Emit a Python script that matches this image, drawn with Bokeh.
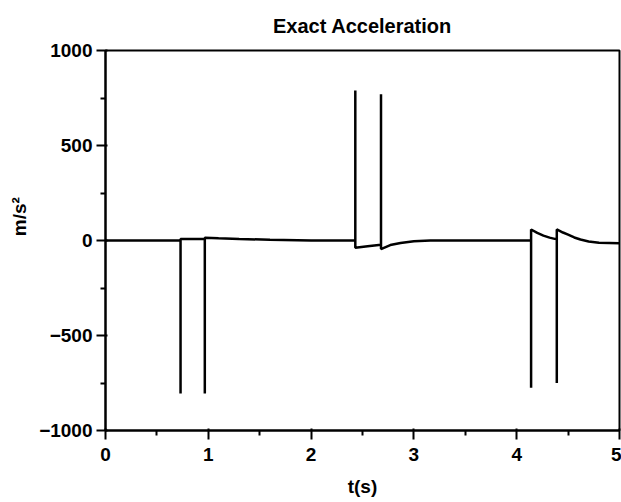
from bokeh.plotting import figure
from bokeh.models import FixedTicker, Range1d
from bokeh.embed import file_html
from bokeh.resources import INLINE

# Data (time in s, acceleration in m/s^2)
t_s = [0.0, 0.73, 0.73, 0.73, 0.85, 0.966, 0.966, 0.966, 1.1, 1.3, 1.6, 2.0,
       2.43, 2.43, 2.43, 2.55, 2.68, 2.68, 2.68, 2.77, 2.87, 3.0, 3.16, 3.5,
       4.14, 4.14, 4.14, 4.2, 4.26, 4.32, 4.39, 4.39, 4.39, 4.45, 4.5, 4.56,
       4.62, 4.7, 4.8, 5.0]
acc = [0, 0, -805, 8, 8, 8, -805, 15, 12, 8, 4, 0,
       0, 790, -38, -30, -22, 770, -45, -24, -13, -4, 0, 0,
       0, -775, 58, 40, 26, 15, 6, -750, 58, 42, 31,
       16, 5, -5, -12, -14]

x_ticks = [0, 1, 2, 3, 4, 5]
x_minor = [0.5, 1.5, 2.5, 3.5, 4.5]
y_ticks = [-1000, -500, 0, 500, 1000]
y_minor = [-750, -250, 250, 750]
y_tick_labels = {-1000: "\u22121000", -500: "\u2212500", 0: "0", 500: "500", 1000: "1000"}

FONT = "Liberation Sans"

p = figure(width=621, height=502, output_backend="svg", toolbar_location=None,
           x_range=Range1d(0, 5), y_range=Range1d(-1000, 1000),
           title="Exact Acceleration",
           min_border_left=105, min_border_right=2, min_border_top=50, min_border_bottom=72)

p.line(t_s, acc, line_color="black", line_width=2.5)

p.grid.visible = False
p.outline_line_color = "black"
p.outline_line_width = 2
p.outline_line_alpha = 1
p.background_fill_color = "white"
p.border_fill_color = "white"

p.title.text_font = FONT
p.title.text_font_size = "20px"
p.title.text_font_style = "bold"
p.title.align = "center"
p.title.text_color = "black"
p.title.vertical_align = "top"
p.title.standoff = 24

p.xaxis.ticker = FixedTicker(ticks=x_ticks, minor_ticks=x_minor)
p.yaxis.ticker = FixedTicker(ticks=y_ticks, minor_ticks=y_minor)
p.yaxis.major_label_overrides = y_tick_labels

for ax in (p.xaxis[0], p.yaxis[0]):
    ax.axis_line_color = "black"
    ax.axis_line_width = 2
    ax.major_tick_line_color = "black"
    ax.major_tick_line_width = 2
    ax.minor_tick_line_color = "black"
    ax.minor_tick_line_width = 2
    ax.major_tick_out = 9
    ax.major_tick_in = 2
    ax.minor_tick_out = 5
    ax.minor_tick_in = 0
    ax.major_label_text_font = FONT
    ax.major_label_text_font_size = "19px"
    ax.major_label_text_font_style = "bold"
    ax.major_label_text_color = "black"
    ax.axis_label_text_font = FONT
    ax.axis_label_text_font_size = "19px"
    ax.axis_label_text_font_style = "bold"
    ax.axis_label_text_color = "black"

p.xaxis.axis_label = "t(s)"
p.xaxis.major_label_standoff = 8
p.xaxis.axis_label_standoff = 12
p.yaxis.axis_label = "\u00a0" * 9 + "m/s\u00b2"
p.yaxis.major_label_standoff = 4
p.yaxis.axis_label_standoff = 6

open("out.html", "w").write(file_html(p, INLINE))
